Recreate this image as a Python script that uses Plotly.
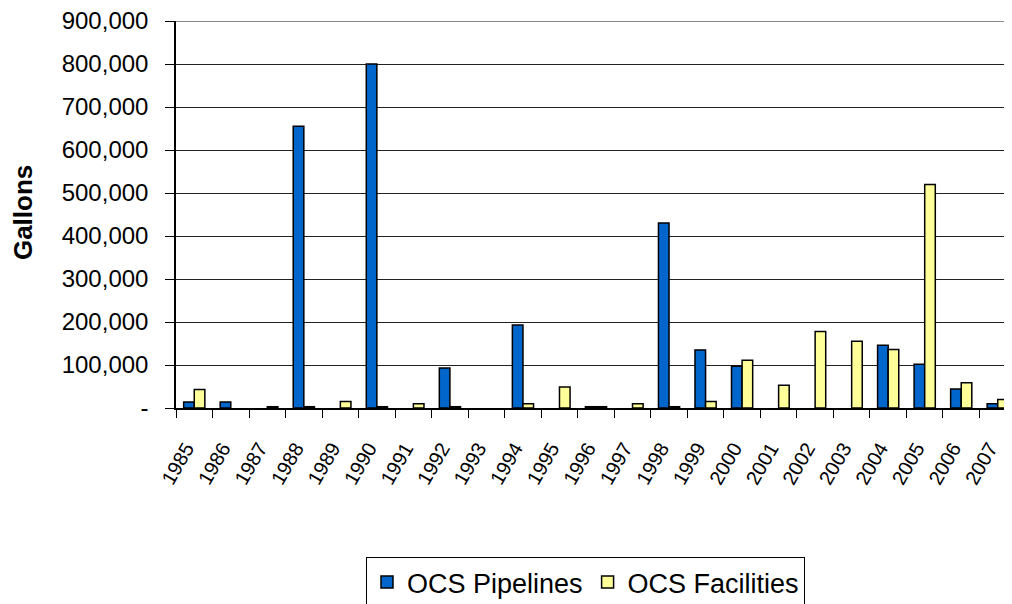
import plotly.graph_objects as go

years = [str(y) for y in range(1985, 2008)]
pipelines = [14000, 14000, None, 655000, None, 800000, None, 93000, None, 193000, None, 3000, None, 430000,
             135000, 97000, None, None, None, 146000, 102000, 44000, 10000]
facilities = [43000, None, 3000, 3000, 15000, 3000, 10000, 3000, None, 10000, 49000, 3000, 10000, 3000,
              15000, 111000, 53000, 178000, 155000, 136000, 520000, 59000, 20000]

y_tickvals = [0, 100000, 200000, 300000, 400000, 500000, 600000, 700000, 800000, 900000]
y_ticktext = ["-", "100,000", "200,000", "300,000", "400,000", "500,000", "600,000",
              "700,000", "800,000", "900,000"]

fig = go.Figure()
fig.add_trace(go.Bar(x=years, y=pipelines, name="OCS Pipelines",
                     marker=dict(color="#0066CC", line=dict(color="#000000", width=1.5))))
fig.add_trace(go.Bar(x=years, y=facilities, name="OCS Facilities",
                     marker=dict(color="#FFFF99", line=dict(color="#000000", width=1.5))))

fig.update_layout(
    width=1012, height=604,
    margin=dict(l=168, r=4, t=13, b=204, autoexpand=False),
    paper_bgcolor="white", plot_bgcolor="white",
    barmode="group", bargap=0.42, bargroupgap=0,
    font=dict(family="Liberation Sans, Arial, sans-serif", color="#000000"),
    showlegend=True,
    legend=dict(orientation="h", x=0.4875, xanchor="center", y=-0.385, yanchor="top",
                bordercolor="#000000", borderwidth=1, font=dict(size=27),
                itemwidth=30, tracegroupgap=0),
    xaxis=dict(type="category", tickson="boundaries", ticks="outside", ticklen=8,
               tickcolor="#000000", showline=True, linecolor="#000000", linewidth=1.5,
               tickangle=-60, tickfont=dict(size=20), ticklabelstandoff=19,
               ticklabelshift=-8, showgrid=False, automargin=False),
    yaxis=dict(range=[0, 900000], tickvals=y_tickvals, ticktext=y_ticktext,
               ticks="outside", ticklen=9, tickcolor="#000000",
               showline=True, linecolor="#000000", linewidth=1.5,
               showgrid=True, gridcolor="#222222", gridwidth=1,
               tickfont=dict(size=24), zeroline=False, automargin=False,
               ticklabelstandoff=12, ticklabeloverflow="allow"),
    annotations=[dict(text="<b>Gallons</b>", xref="paper", yref="paper",
                      x=-0.1827, y=0.505, xanchor="center", yanchor="middle",
                      textangle=-90, showarrow=False, font=dict(size=26))],
)
fig.add_shape(type="line", xref="paper", yref="y", x0=0, x1=1, y0=900000, y1=900000,
              line=dict(color="#888888", width=2))

fig.write_html("out.html")
